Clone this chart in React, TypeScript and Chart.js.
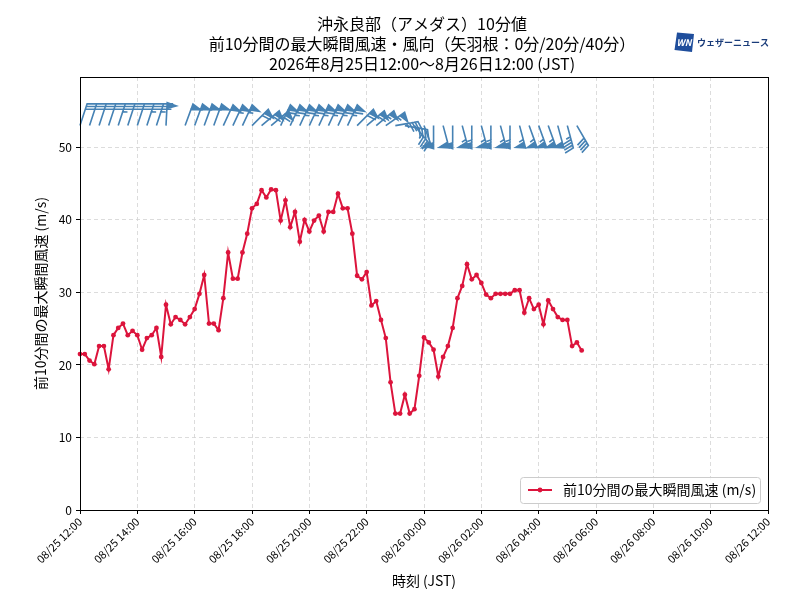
import React, { useEffect, useRef } from 'react';
import { Chart, registerables } from 'chart.js';

Chart.register(...registerables);

// ---------- text ----------
const titleLines = [
  '沖永良部（アメダス）10分値',
  '前10分間の最大瞬間風速・風向（矢羽根：0分/20分/40分）',
  '2026年8月25日12:00〜8月26日12:00 (JST)',
];
const yAxisTitle = '前10分間の最大瞬間風速 (m/s)';
const xAxisTitle = '時刻 (JST)';
const legendLabel = '前10分間の最大瞬間風速 (m/s)';
const logoText = 'ウェザーニュース';

// ---------- axes ----------
const xTickLabels = [
  '08/25 12:00', '08/25 14:00', '08/25 16:00', '08/25 18:00', '08/25 20:00',
  '08/25 22:00', '08/26 00:00', '08/26 02:00', '08/26 04:00', '08/26 06:00',
  '08/26 08:00', '08/26 10:00', '08/26 12:00',
];
const X_TICK_STEP_MIN = 120;
const X_MAX_MIN = 1440;
const Y_MAX = 59.7;

// ---------- data: gust every 10 minutes from 08/25 12:00 ----------
const GUST_STEP_MIN = 10;
const gust = [
  21.5, 21.5, 20.6, 20.1, 22.6, 22.6, 19.4, 24.1, 25.1, 25.7,
  24.1, 24.7, 24.1, 22.1, 23.7, 24.1, 25.1, 21.1, 28.3, 25.6,
  26.6, 26.2, 25.6, 26.6, 27.7, 29.8, 32.4, 25.7, 25.7, 24.8,
  29.2, 35.5, 31.9, 31.9, 35.5, 38.1, 41.6, 42.2, 44.1, 43.1,
  44.2, 44.1, 39.9, 42.7, 39.0, 41.1, 37.0, 40.0, 38.4, 39.9,
  40.6, 38.4, 41.1, 41.1, 43.6, 41.6, 41.6, 38.1, 32.3, 31.8,
  32.8, 28.2, 28.8, 26.2, 23.7, 17.6, 13.3, 13.3, 15.9, 13.3,
  13.9, 18.5, 23.8, 23.1, 22.1, 18.4, 21.1, 22.6, 25.1, 29.2,
  30.9, 33.9, 31.8, 32.4, 31.3, 29.7, 29.2, 29.8, 29.8, 29.8,
  29.8, 30.3, 30.3, 27.2, 29.2, 27.7, 28.3, 25.6, 28.9, 27.7,
  26.6, 26.2, 26.2, 22.6, 23.1, 22.0,
];

// ---------- wind barbs every 20 minutes (direction deg from, speed kt) ----------
const BARB_STEP_MIN = 20;
const BARB_Y = 53;
const barbDir: (number | null)[] = [
  18, 18, 18, 18, 18, 18, 18, 18, 18, 3,
  null, 20, 20, 20, 20, 25, 25, 25, 45, 50,
  50, 25, 25, 25, 25, 25, 25, 25, 25, 45,
  50, 50, 55, 80, 100, 140, 160, 180, 165, 180,
  165, 180, 165, 180, 165, 180, 165, 160, 160, 160,
  165, 165, 150,
];
const barbKt: (number | null)[] = [
  30, 30, 30, 30, 35, 30, 30, 35, 35, 50,
  null, 50, 50, 50, 50, 50, 55, 55, 60, 60,
  60, 65, 65, 65, 65, 65, 65, 65, 65, 60,
  60, 55, 55, 45, 40, 45, 50, 50, 50, 50,
  55, 55, 55, 55, 55, 55, 55, 55, 55, 55,
  50, 45, 40,
];

const LINE_COLOR = '#DC143C';
const BARB_COLOR = '#4682B4';
const FONT = "'Noto Sans CJK JP', 'Noto Sans', sans-serif";

function drawBarb(ctx: CanvasRenderingContext2D, cx: number, cy: number, dirDeg: number, kt: number, L: number) {
  const spacing = L * 0.125;
  const fh = L * 0.4;
  const fw = L * 0.25;
  let mag = 5 * Math.floor(kt / 5 + 0.5);
  const nflags = Math.floor(mag / 50);
  mag -= nflags * 50;
  const nbarbs = Math.floor(mag / 10);
  mag -= nbarbs * 10;
  const half = mag >= 5;
  const pts: number[][] = [[0, 0]];
  let offset = L;
  for (let i = 0; i < nflags; i++) {
    if (offset !== L) offset += spacing / 2;
    pts.push([0, offset], [fh, offset - fw / 2], [0, offset - fw]);
    offset -= fw + spacing;
  }
  for (let i = 0; i < nbarbs; i++) {
    pts.push([0, offset], [fh, offset + fw / 2], [0, offset]);
    offset -= spacing;
  }
  if (half) {
    if (offset === L) {
      pts.push([0, offset]);
      offset -= 1.5 * spacing;
    }
    pts.push([0, offset], [fh / 2, offset + fw / 4], [0, offset]);
  }
  const r = (dirDeg * Math.PI) / 180;
  const c = Math.cos(r);
  const s = Math.sin(r);
  ctx.beginPath();
  pts.forEach(([px, py], i) => {
    const X = px * c + py * s;
    const Y = -px * s + py * c;
    const x = cx + X;
    const y = cy - Y;
    if (i === 0) ctx.moveTo(x, y);
    else ctx.lineTo(x, y);
  });
  ctx.closePath();
  ctx.fill();
  ctx.stroke();
}

const overlayPlugin = {
  id: 'overlay',
  afterDatasetsDraw(chart: any) {
    const { ctx, scales } = chart;
    const xs = scales.x;
    const ys = scales.y;
    ctx.save();
    ctx.fillStyle = BARB_COLOR;
    ctx.strokeStyle = BARB_COLOR;
    ctx.lineWidth = 1.6;
    ctx.lineJoin = 'miter';
    barbDir.forEach((d, k) => {
      const kt = barbKt[k];
      if (d == null || kt == null) return;
      drawBarb(ctx, xs.getPixelForValue(k * BARB_STEP_MIN), ys.getPixelForValue(BARB_Y), d, kt, 23);
    });
    ctx.restore();
  },
  afterDraw(chart: any) {
    const { ctx, chartArea } = chart;
    const { left, right, top, bottom } = chartArea;
    const cxm = (left + right) / 2;
    ctx.save();
    // frame
    ctx.strokeStyle = '#000';
    ctx.lineWidth = 1;
    ctx.strokeRect(Math.round(left) + 0.5, Math.round(top) + 0.5, Math.round(right - left), Math.round(bottom - top));

    // titles
    ctx.fillStyle = '#000';
    ctx.textAlign = 'center';
    ctx.textBaseline = 'middle';
    ctx.font = `16px ${FONT}`;
    titleLines.forEach((t, i) => ctx.fillText(t, cxm - 2, 24 + i * 20));

    // axis titles
    ctx.font = `14px ${FONT}`;
    ctx.fillText(xAxisTitle, cxm, 581);
    ctx.save();
    ctx.translate(41, (top + bottom) / 2);
    ctx.rotate(-Math.PI / 2);
    ctx.fillText(yAxisTitle, 0, 0);
    ctx.restore();

    // legend
    const lx = 520.5, ly = 477.5, lw = 240, lh = 26;
    ctx.beginPath();
    ctx.roundRect(lx, ly, lw, lh, 3);
    ctx.fillStyle = 'rgba(255,255,255,0.85)';
    ctx.fill();
    ctx.strokeStyle = '#cccccc';
    ctx.lineWidth = 1;
    ctx.stroke();
    ctx.strokeStyle = LINE_COLOR;
    ctx.lineWidth = 2;
    ctx.beginPath();
    ctx.moveTo(528, 490);
    ctx.lineTo(552, 490);
    ctx.stroke();
    ctx.fillStyle = LINE_COLOR;
    ctx.beginPath();
    ctx.arc(540, 490, 2.4, 0, Math.PI * 2);
    ctx.fill();
    ctx.fillStyle = '#000';
    ctx.textAlign = 'left';
    ctx.font = `14px ${FONT}`;
    ctx.fillText(legendLabel, 563, 490);

    // logo
    ctx.fillStyle = '#1f4e9c';
    ctx.beginPath();
    ctx.moveTo(677, 32.5);
    ctx.lineTo(694, 34);
    ctx.lineTo(692, 52);
    ctx.lineTo(674.5, 50);
    ctx.closePath();
    ctx.fill();
    ctx.fillStyle = '#fff';
    ctx.textAlign = 'center';
    ctx.font = `italic bold 9px ${FONT}`;
    ctx.fillText('WN', 684, 42.5);
    ctx.fillStyle = '#1a3c7a';
    ctx.textAlign = 'left';
    ctx.font = `bold 9px ${FONT}`;
    ctx.fillText(logoText, 697, 42.5);
    ctx.restore();
  },
};

export default function App() {
  const canvasRef = useRef<HTMLCanvasElement | null>(null);

  useEffect(() => {
    const canvas = canvasRef.current;
    if (!canvas) return;
    Chart.defaults.font.family = FONT;
    Chart.defaults.color = '#000';
    const points = gust.map((g, i) => ({ x: i * GUST_STEP_MIN, y: g }));
    const chart = new Chart(canvas, {
      type: 'line',
      data: {
        datasets: [
          {
            label: legendLabel,
            data: points,
            borderColor: LINE_COLOR,
            backgroundColor: LINE_COLOR,
            borderWidth: 2,
            pointRadius: 2.4,
            pointHoverRadius: 2.4,
            pointBackgroundColor: LINE_COLOR,
            pointBorderWidth: 0,
            tension: 0,
            clip: 6,
          } as any,
        ],
      },
      options: {
        animation: false,
        responsive: false,
        maintainAspectRatio: false,
        events: [],
        layout: { padding: { top: 77, right: 32, left: 0, bottom: 0 } },
        plugins: {
          legend: { display: false },
          title: { display: false },
          tooltip: { enabled: false },
        },
        scales: {
          x: {
            type: 'linear',
            min: 0,
            max: X_MAX_MIN,
            afterFit: (s: any) => { s.height = 90; },
            border: { display: false, dash: [4, 3] },
            grid: {
              color: '#d3d3d3',
              lineWidth: 0.8,
              drawTicks: true,
              tickLength: 4,
              tickColor: '#000',
              tickWidth: 1,
              tickBorderDash: [],
            },
            ticks: {
              stepSize: X_TICK_STEP_MIN,
              autoSkip: false,
              minRotation: 45,
              maxRotation: 45,
              padding: 1,
              color: '#000',
              font: { size: 11, family: FONT },
              callback: (v: any) => xTickLabels[Math.round(Number(v) / X_TICK_STEP_MIN)] ?? '',
            },
          },
          y: {
            type: 'linear',
            min: 0,
            max: Y_MAX,
            afterFit: (s: any) => { s.width = 80; },
            border: { display: false, dash: [4, 3] },
            grid: {
              color: '#d3d3d3',
              lineWidth: 0.8,
              drawTicks: true,
              tickLength: 4,
              tickColor: '#000',
              tickWidth: 1,
              tickBorderDash: [],
            },
            ticks: {
              stepSize: 10,
              includeBounds: false,
              padding: 4,
              color: '#000',
              font: { size: 12, family: FONT },
            },
          },
        },
      },
      plugins: [overlayPlugin],
    } as any);
    return () => chart.destroy();
  }, []);

  return (
    <div style={{ position: 'absolute', left: 0, top: 0, width: 800, height: 600, background: '#fff' }}>
      <canvas ref={canvasRef} width={800} height={600} style={{ display: 'block', width: 800, height: 600 }} />
    </div>
  );
}
